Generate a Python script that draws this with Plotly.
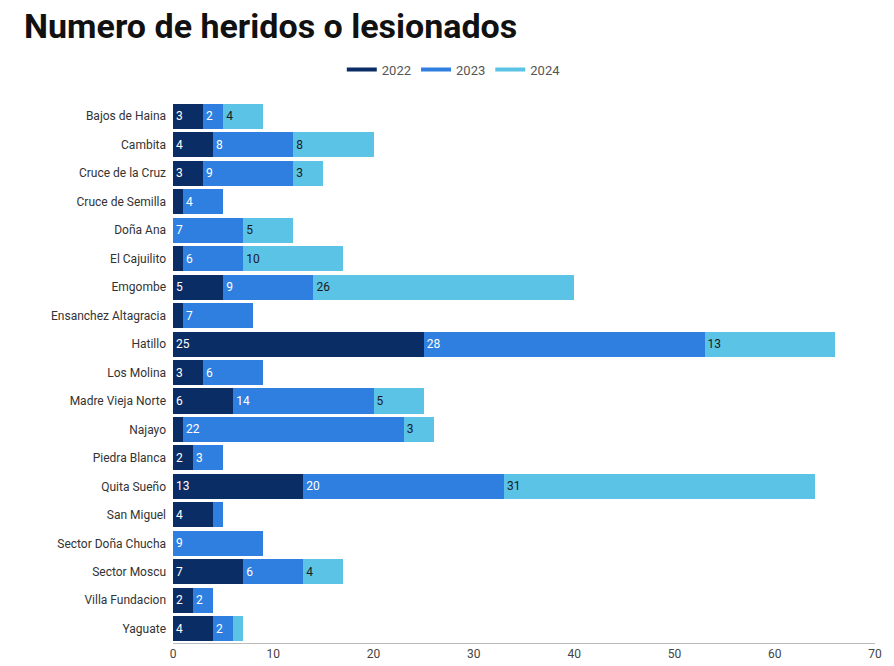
import plotly.graph_objects as go

places = ["Bajos de Haina", "Cambita", "Cruce de la Cruz", "Cruce de Semilla", "Doña Ana",
          "El Cajuilito", "Emgombe", "Ensanchez Altagracia", "Hatillo", "Los Molina",
          "Madre Vieja Norte", "Najayo", "Piedra Blanca", "Quita Sueño", "San Miguel",
          "Sector Doña Chucha", "Sector Moscu", "Villa Fundacion", "Yaguate"]
y2022 = [3, 4, 3, 1, 0, 1, 5, 1, 25, 3, 6, 1, 2, 13, 4, 0, 7, 2, 4]
y2023 = [2, 8, 9, 4, 7, 6, 9, 7, 28, 6, 14, 22, 3, 20, 1, 9, 6, 2, 2]
y2024 = [4, 8, 3, 0, 5, 10, 26, 0, 13, 0, 5, 3, 0, 31, 0, 0, 4, 0, 1]

years = ["2022", "2023", "2024"]
series = [y2022, y2023, y2024]
colors = ["#0b2d66", "#2e7fe0", "#5bc3e6"]
text_colors = ["white", "white", "#1a1a1a"]

fig = go.Figure()
for name, vals, c, tc in zip(years, series, colors, text_colors):
    fig.add_trace(go.Bar(
        y=places, x=vals, orientation="h", name=name, marker_color=c,
        marker_line_width=0, showlegend=False,
        text=[str(v) if v >= 2 else "" for v in vals],
        textposition="inside", insidetextanchor="start",
        textfont=dict(color=tc, size=12, family="Roboto"),
        constraintext="none",
    ))
for name, c in zip(years, colors):
    # legend entries drawn as short lines
    fig.add_trace(go.Scatter(x=[None], y=[None], mode="lines", name=name,
                             line=dict(color=c, width=4)))

fig.update_layout(
    barmode="stack", bargap=0.12,
    width=894, height=666,
    plot_bgcolor="white", paper_bgcolor="white",
    margin=dict(l=165, r=27, t=94, b=31, autoexpand=False),
    title=dict(text="<b>Numero de heridos o lesionados</b>", x=0.018, y=0.99,
               xanchor="left", yanchor="top",
               font=dict(size=34, color="#111", family="Roboto")),
    legend=dict(orientation="h", x=0.40, xanchor="center", y=1.06, yanchor="middle",
                traceorder="normal",
                font=dict(size=13, color="#555", family="Roboto")),
    font=dict(family="Roboto", color="#333"),
)
fig.update_xaxes(range=[0, 70], dtick=10, showgrid=False, zeroline=False, automargin=False,
                 showline=True, linecolor="#bbb", ticks="", tickfont=dict(size=12, color="#444"))
fig.update_yaxes(autorange="reversed", showgrid=False, ticks="", automargin=False,
                 tickfont=dict(size=12, color="#333"), ticksuffix="  ")

fig.write_html("out.html")
